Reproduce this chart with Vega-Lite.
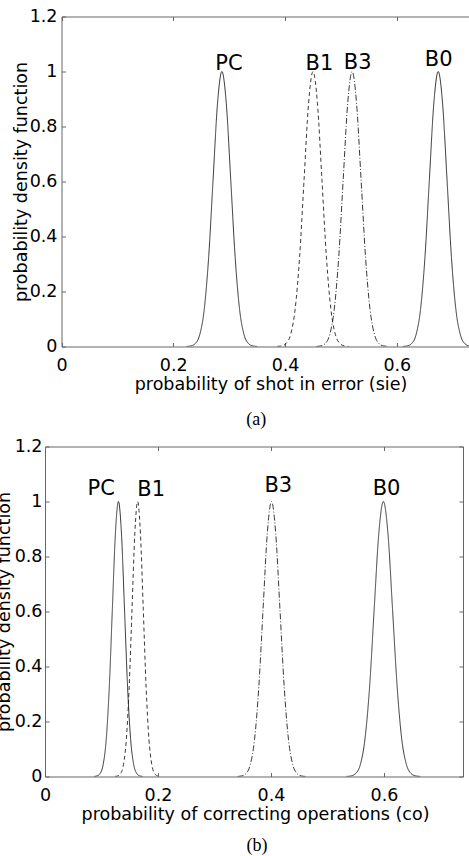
{
"$schema": "https://vega.github.io/schema/vega-lite/v6.json",
"padding": {"left": -5, "top": 7.5, "right": 0, "bottom": 0},
"background": "white",
"config": {
 "view": {"stroke": null},
 "axis": {"grid": false, "domainColor": "#666", "tickColor": "#666", "tickSize": -4, "labelFont": "DejaVu Sans", "labelFontSize": 17.5, "labelColor": "#000", "titleFont": "DejaVu Sans", "titleFontSize": 17.5, "titleFontWeight": "normal", "titleColor": "#000", "labelFlush": false, "labelOverlap": false},
 "title": {"font": "Liberation Serif", "fontSize": 18, "fontWeight": "normal", "color": "#000"}
},
"datasets": {
 "curvesA": [
  {"curve":"PC","x":0.2238,"y":0.0003},{"curve":"PC","x":0.2317,"y":0.0022},{"curve":"PC","x":0.2396,"y":0.0111},{"curve":"PC","x":0.2475,"y":0.0439},{"curve":"PC","x":0.2554,"y":0.1353},{"curve":"PC","x":0.2633,"y":0.3247},{"curve":"PC","x":0.2712,"y":0.6065},{"curve":"PC","x":0.2791,"y":0.8825},{"curve":"PC","x":0.287,"y":1},{"curve":"PC","x":0.2949,"y":0.8825},{"curve":"PC","x":0.3028,"y":0.6065},{"curve":"PC","x":0.3107,"y":0.3247},{"curve":"PC","x":0.3186,"y":0.1353},{"curve":"PC","x":0.3265,"y":0.0439},{"curve":"PC","x":0.3344,"y":0.0111},{"curve":"PC","x":0.3423,"y":0.0022},{"curve":"PC","x":0.3502,"y":0.0003},
  {"curve":"B1","x":0.386,"y":0.0003},{"curve":"B1","x":0.394,"y":0.0022},{"curve":"B1","x":0.402,"y":0.0111},{"curve":"B1","x":0.41,"y":0.0439},{"curve":"B1","x":0.418,"y":0.1353},{"curve":"B1","x":0.426,"y":0.3247},{"curve":"B1","x":0.434,"y":0.6065},{"curve":"B1","x":0.442,"y":0.8825},{"curve":"B1","x":0.45,"y":1},{"curve":"B1","x":0.458,"y":0.8825},{"curve":"B1","x":0.466,"y":0.6065},{"curve":"B1","x":0.474,"y":0.3247},{"curve":"B1","x":0.482,"y":0.1353},{"curve":"B1","x":0.49,"y":0.0439},{"curve":"B1","x":0.498,"y":0.0111},{"curve":"B1","x":0.506,"y":0.0022},{"curve":"B1","x":0.514,"y":0.0003},
  {"curve":"B3","x":0.456,"y":0.0003},{"curve":"B3","x":0.464,"y":0.0022},{"curve":"B3","x":0.472,"y":0.0111},{"curve":"B3","x":0.48,"y":0.0439},{"curve":"B3","x":0.488,"y":0.1353},{"curve":"B3","x":0.496,"y":0.3247},{"curve":"B3","x":0.504,"y":0.6065},{"curve":"B3","x":0.512,"y":0.8825},{"curve":"B3","x":0.52,"y":1},{"curve":"B3","x":0.528,"y":0.8825},{"curve":"B3","x":0.536,"y":0.6065},{"curve":"B3","x":0.544,"y":0.3247},{"curve":"B3","x":0.552,"y":0.1353},{"curve":"B3","x":0.56,"y":0.0439},{"curve":"B3","x":0.568,"y":0.0111},{"curve":"B3","x":0.576,"y":0.0022},{"curve":"B3","x":0.584,"y":0.0003},
  {"curve":"B0","x":0.6108,"y":0.0003},{"curve":"B0","x":0.6187,"y":0.0022},{"curve":"B0","x":0.6266,"y":0.0111},{"curve":"B0","x":0.6345,"y":0.0439},{"curve":"B0","x":0.6424,"y":0.1353},{"curve":"B0","x":0.6503,"y":0.3247},{"curve":"B0","x":0.6582,"y":0.6065},{"curve":"B0","x":0.6661,"y":0.8825},{"curve":"B0","x":0.674,"y":1},{"curve":"B0","x":0.6819,"y":0.8825},{"curve":"B0","x":0.6898,"y":0.6065},{"curve":"B0","x":0.6977,"y":0.3247},{"curve":"B0","x":0.7056,"y":0.1353},{"curve":"B0","x":0.7135,"y":0.0439},{"curve":"B0","x":0.7214,"y":0.0111},{"curve":"B0","x":0.7293,"y":0.0022},{"curve":"B0","x":0.7372,"y":0.0003}
 ],
 "labelsA": [
  {"text":"PC","x":0.2996,"y":1.004},{"text":"B1","x":0.4614,"y":1.006},{"text":"B3","x":0.530,"y":1.01},{"text":"B0","x":0.675,"y":1.019}
 ],
 "curvesB": [
  {"curve":"PC","x":0.0868,"y":0.0003},{"curve":"PC","x":0.0922,"y":0.0022},{"curve":"PC","x":0.0976,"y":0.0111},{"curve":"PC","x":0.103,"y":0.0439},{"curve":"PC","x":0.1084,"y":0.1353},{"curve":"PC","x":0.1138,"y":0.3247},{"curve":"PC","x":0.1192,"y":0.6065},{"curve":"PC","x":0.1246,"y":0.8825},{"curve":"PC","x":0.13,"y":1},{"curve":"PC","x":0.1354,"y":0.8825},{"curve":"PC","x":0.1408,"y":0.6065},{"curve":"PC","x":0.1462,"y":0.3247},{"curve":"PC","x":0.1516,"y":0.1353},{"curve":"PC","x":0.157,"y":0.0439},{"curve":"PC","x":0.1624,"y":0.0111},{"curve":"PC","x":0.1678,"y":0.0022},{"curve":"PC","x":0.1732,"y":0.0003},
  {"curve":"B1","x":0.124,"y":0.0003},{"curve":"B1","x":0.129,"y":0.0022},{"curve":"B1","x":0.134,"y":0.0111},{"curve":"B1","x":0.139,"y":0.0439},{"curve":"B1","x":0.144,"y":0.1353},{"curve":"B1","x":0.149,"y":0.3247},{"curve":"B1","x":0.154,"y":0.6065},{"curve":"B1","x":0.159,"y":0.8825},{"curve":"B1","x":0.164,"y":1},{"curve":"B1","x":0.169,"y":0.8825},{"curve":"B1","x":0.174,"y":0.6065},{"curve":"B1","x":0.179,"y":0.3247},{"curve":"B1","x":0.184,"y":0.1353},{"curve":"B1","x":0.189,"y":0.0439},{"curve":"B1","x":0.194,"y":0.0111},{"curve":"B1","x":0.199,"y":0.0022},{"curve":"B1","x":0.204,"y":0.0003},
  {"curve":"B3","x":0.341,"y":0.0003},{"curve":"B3","x":0.3485,"y":0.0022},{"curve":"B3","x":0.356,"y":0.0111},{"curve":"B3","x":0.3635,"y":0.0439},{"curve":"B3","x":0.371,"y":0.1353},{"curve":"B3","x":0.3785,"y":0.3247},{"curve":"B3","x":0.386,"y":0.6065},{"curve":"B3","x":0.3935,"y":0.8825},{"curve":"B3","x":0.401,"y":1},{"curve":"B3","x":0.4085,"y":0.8825},{"curve":"B3","x":0.416,"y":0.6065},{"curve":"B3","x":0.4235,"y":0.3247},{"curve":"B3","x":0.431,"y":0.1353},{"curve":"B3","x":0.4385,"y":0.0439},{"curve":"B3","x":0.446,"y":0.0111},{"curve":"B3","x":0.4535,"y":0.0022},{"curve":"B3","x":0.461,"y":0.0003},
  {"curve":"B0","x":0.5338,"y":0.0003},{"curve":"B0","x":0.542,"y":0.0022},{"curve":"B0","x":0.5501,"y":0.0111},{"curve":"B0","x":0.5583,"y":0.0439},{"curve":"B0","x":0.5664,"y":0.1353},{"curve":"B0","x":0.5746,"y":0.3247},{"curve":"B0","x":0.5827,"y":0.6065},{"curve":"B0","x":0.5909,"y":0.8825},{"curve":"B0","x":0.599,"y":1},{"curve":"B0","x":0.6072,"y":0.8825},{"curve":"B0","x":0.6153,"y":0.6065},{"curve":"B0","x":0.6235,"y":0.3247},{"curve":"B0","x":0.6316,"y":0.1353},{"curve":"B0","x":0.6398,"y":0.0439},{"curve":"B0","x":0.6479,"y":0.0111},{"curve":"B0","x":0.6561,"y":0.0022},{"curve":"B0","x":0.6642,"y":0.0003}
 ],
 "labelsB": [
  {"text":"PC","x":0.0996,"y":1.025},{"text":"B1","x":0.188,"y":1.02},{"text":"B3","x":0.413,"y":1.034},{"text":"B0","x":0.6046,"y":1.025}
 ]
},
"spacing": 8,
"vconcat": [
 {
  "width": 424.5, "height": 330,
  "title": {"text": "(a)", "orient": "bottom", "anchor": "middle", "frame": "group", "offset": 18.5, "dx": -1},
  "layer": [
   {"data": {"name": "curvesA"},
    "mark": {"type": "line", "clip": true, "stroke": "#222", "strokeWidth": 0.9, "interpolate": "monotone"},
    "encoding": {
     "x": {"field": "x", "type": "quantitative", "scale": {"domain": [0, 0.73], "range": [16.5, 424.5], "nice": false, "zero": false},
       "axis": {"orient": "bottom", "values": [0, 0.2, 0.4, 0.6], "format": "~g", "labelPadding": 13.5, "title": "probability of shot in error (sie)", "titleX": 225.5, "titleY": 28.5}},
     "y": {"field": "y", "type": "quantitative", "scale": {"domain": [0, 1.2], "nice": false},
       "axis": {"orient": "left", "offset": -16.5, "values": [0, 0.2, 0.4, 0.6, 0.8, 1, 1.2], "format": "~g", "labelPadding": 8.5, "title": "probability density function", "titleX": -31}},
     "strokeDash": {"field": "curve", "type": "nominal", "scale": {"domain": ["PC", "B1", "B3", "B0"], "range": [[1, 0], [4, 3], [6, 2, 1, 2], [1, 0]]}, "legend": null}
    }},
   {"data": {"name": "labelsA"},
    "mark": {"type": "text", "font": "DejaVu Sans", "fontSize": 21, "align": "center", "baseline": "alphabetic", "color": "#000"},
    "encoding": {
     "x": {"field": "x", "type": "quantitative", "axis": {"orient": "top", "labels": false, "title": null, "values": [0, 0.2, 0.4, 0.6]}},
     "y": {"field": "y", "type": "quantitative", "axis": null},
     "text": {"field": "text"}
    }}
  ],
  "resolve": {"axis": {"x": "independent", "y": "independent"}}
 },
 {
  "width": 418, "height": 330,
  "title": {"text": "(b)", "orient": "bottom", "anchor": "middle", "frame": "group", "offset": 14, "dx": 3},
  "layer": [
   {"data": {"name": "curvesB"},
    "mark": {"type": "line", "clip": true, "stroke": "#222", "strokeWidth": 0.9, "interpolate": "monotone"},
    "encoding": {
     "x": {"field": "x", "type": "quantitative", "scale": {"domain": [0, 0.74], "nice": false, "zero": false},
       "axis": {"orient": "bottom", "values": [0, 0.2, 0.4, 0.6], "format": "~g", "labelPadding": 13.5, "title": "probability of correcting operations (co)", "titleX": 210, "titleY": 28.5}},
     "y": {"field": "y", "type": "quantitative", "scale": {"domain": [0, 1.2], "nice": false},
       "axis": {"orient": "left", "values": [0, 0.2, 0.4, 0.6, 0.8, 1, 1.2], "format": "~g", "labelPadding": 7, "title": "probability density function", "titleX": -31.5}},
     "strokeDash": {"field": "curve", "type": "nominal", "scale": {"domain": ["PC", "B1", "B3", "B0"], "range": [[1, 0], [4, 3], [6, 2, 1, 2], [1, 0]]}, "legend": null}
    }},
   {"data": {"name": "labelsB"},
    "mark": {"type": "text", "font": "DejaVu Sans", "fontSize": 21, "align": "center", "baseline": "alphabetic", "color": "#000"},
    "encoding": {
     "x": {"field": "x", "type": "quantitative", "axis": {"orient": "top", "labels": false, "title": null, "values": [0, 0.2, 0.4, 0.6]}},
     "y": {"field": "y", "type": "quantitative", "axis": {"orient": "right", "labels": false, "title": null, "values": [0, 0.2, 0.4, 0.6, 0.8, 1, 1.2]}},
     "text": {"field": "text"}
    }}
  ],
  "resolve": {"axis": {"x": "independent", "y": "independent"}}
 }
]
}
